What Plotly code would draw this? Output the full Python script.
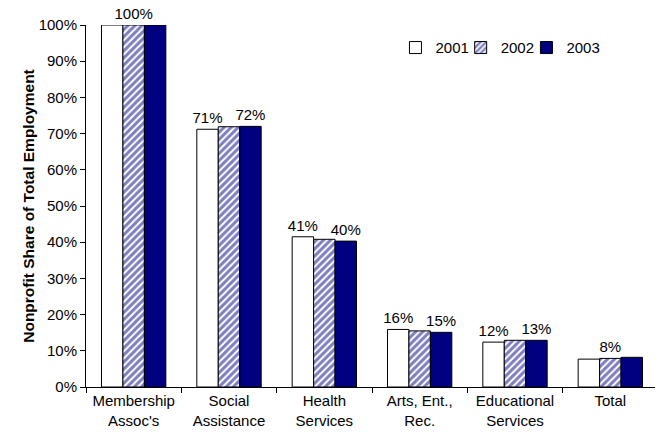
import plotly.graph_objects as go

categories = ["Membership<br>Assoc's", "Social<br>Assistance", "Health<br>Services",
              "Arts, Ent.,<br>Rec.", "Educational<br>Services", "Total"]
v2001 = [100, 71.2, 41.5, 15.9, 12.4, 7.7]
v2002 = [100, 71.9, 40.8, 15.5, 12.9, 7.9]
v2003 = [100, 72.0, 40.3, 15.1, 12.9, 8.2]
t2001 = ["", "71%", "41%", "16%", "12%", ""]
t2002 = ["100%", "", "", "", "", "8%"]
t2003 = ["", "72%", "40%", "15%", "13%", ""]
y_ticks = list(range(0, 101, 10))

NAVY = "#000080"
FONT = "Liberation Sans, Arial, sans-serif"
FS = 15

fig = go.Figure()
fig.add_trace(go.Bar(name="2001", x=categories, y=v2001, text=t2001, legend="legend",
                     marker=dict(color="white", line=dict(color="black", width=1))))
fig.add_trace(go.Bar(name="2002", x=categories, y=v2002, text=t2002, legend="legend2",
                     marker=dict(color="white", line=dict(color="black", width=1),
                                 pattern=dict(shape="/", fgcolor=NAVY, bgcolor="white",
                                              size=5, solidity=0.6, fillmode="overlay"))))
fig.add_trace(go.Bar(name="2003", x=categories, y=v2003, text=t2003, legend="legend3",
                     marker=dict(color=NAVY, line=dict(color="black", width=1))))

fig.update_traces(textposition="outside", cliponaxis=False, constraintext="none",
                  textfont=dict(size=FS, color="black", family=FONT))

leg = dict(orientation="h", y=0.937, xanchor="left", yanchor="middle",
           font=dict(size=FS), itemwidth=30, bgcolor="rgba(0,0,0,0)")

fig.update_layout(
    width=655, height=430,
    margin=dict(l=78, r=5, t=17, b=51, autoexpand=False),
    barmode="group", bargap=0.325, bargroupgap=0,
    plot_bgcolor="white", paper_bgcolor="white",
    font=dict(family=FONT, size=FS, color="black"),
    showlegend=True,
    legend=dict(leg, x=0.541),
    legend2=dict(leg, x=0.655),
    legend3=dict(leg, x=0.770),
)
fig.update_xaxes(showline=True, linecolor="black", linewidth=1, ticks="outside",
                 tickson="boundaries", ticklen=5, tickcolor="black", tickangle=0,
                 automargin=False, showgrid=False, tickfont=dict(size=FS))
fig.update_yaxes(range=[0, 100], tickvals=y_ticks, ticktext=[f"{v}%" for v in y_ticks],
                 showline=True, linecolor="black", linewidth=1, ticks="outside",
                 ticklen=5, tickcolor="black", showgrid=False, zeroline=False,
                 automargin=False, tickfont=dict(size=FS),
                 title=dict(text="<b>Nonprofit Share of Total Employment</b>",
                            font=dict(size=15.5), standoff=0))

fig.write_html("out.html")
